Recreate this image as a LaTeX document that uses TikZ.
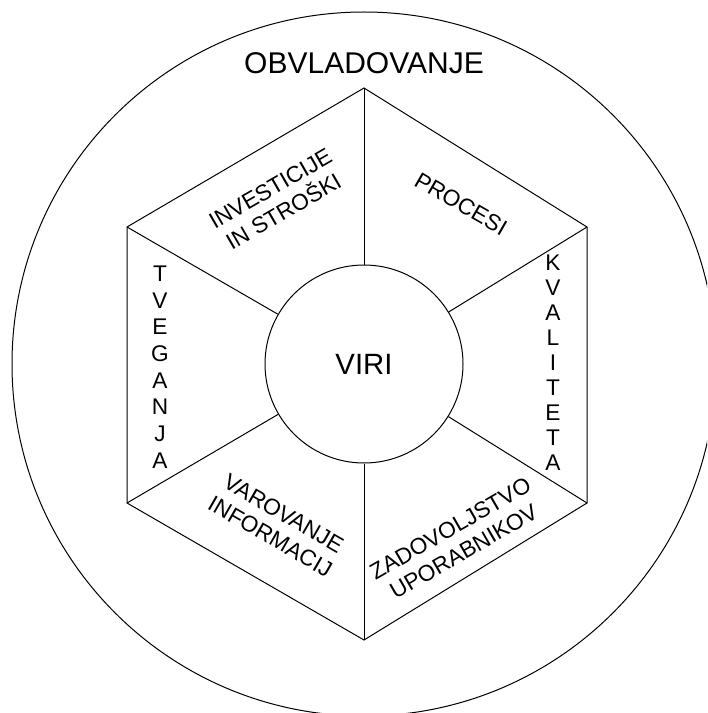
\documentclass[tikz,border=0pt]{standalone}
\usepackage{fontspec}
\setmainfont{Liberation Sans}
\usetikzlibrary{positioning}
\tikzset{
  every node/.style={text=black},
  thin line/.style={draw=black,line width=0.75pt},
  ring/.style={thin line,circle,minimum size=528pt,inner sep=0pt},
  core/.style={thin line,circle,minimum size=148.5pt,inner sep=0pt,font=\fontsize{22}{26}\selectfont},
  title/.style={font=\fontsize{22.5}{26}\selectfont,inner sep=0pt},
  sector/.style={font=\fontsize{17}{20}\selectfont,align=center,inner sep=0pt},
  column/.style={font=\fontsize{17}{20}\selectfont,align=center,inner sep=0pt},
}
\begin{document}
\begin{tikzpicture}[x=0.75pt,y=-0.75pt]
  \clip (0,0) rectangle (707,713);
  \node[ring] (outer) at (364,364) {};
  \node[title] (obv) at (364,63) {OBVLADOVANJE};

  % hexagon corners
  \coordinate (top) at (364,88);
  \coordinate (ur) at (587,227);
  \coordinate (lr) at (587,503);
  \coordinate (bot) at (364,640);
  \coordinate (ll) at (127,503);
  \coordinate (ul) at (127,227);
  \draw[thin line] (top) -- (ur) -- (lr) -- (bot) -- (ll) -- (ul) -- cycle;

  \node[core] (viri) at (364,364) {VIRI};
  \foreach \v in {top,ur,lr,bot,ll,ul} {\draw[thin line] (\v) -- (viri);}

  \node[sector,rotate=30] (inv) at (277,200) {INVESTICIJE\\IN STROŠKI};
  \node[sector,rotate=-30] (pro) at (461,204) {PROCESI};
  \node[sector,rotate=-30] (var) at (277,525) {VAROVANJE\\INFORMACIJ};
  \node[sector,rotate=30] (zad) at (457,540) {ZADOVOLJSTVO\\UPORABNIKOV};
  \node[column] (tve) at (160,367) {T\\V\\E\\G\\A\\N\\J\\A};
  \node[column,font=\fontsize{17}{18.75}\selectfont] (kva) at (553,363) {K\\V\\A\\L\\I\\T\\E\\T\\A};
\end{tikzpicture}
\end{document}
